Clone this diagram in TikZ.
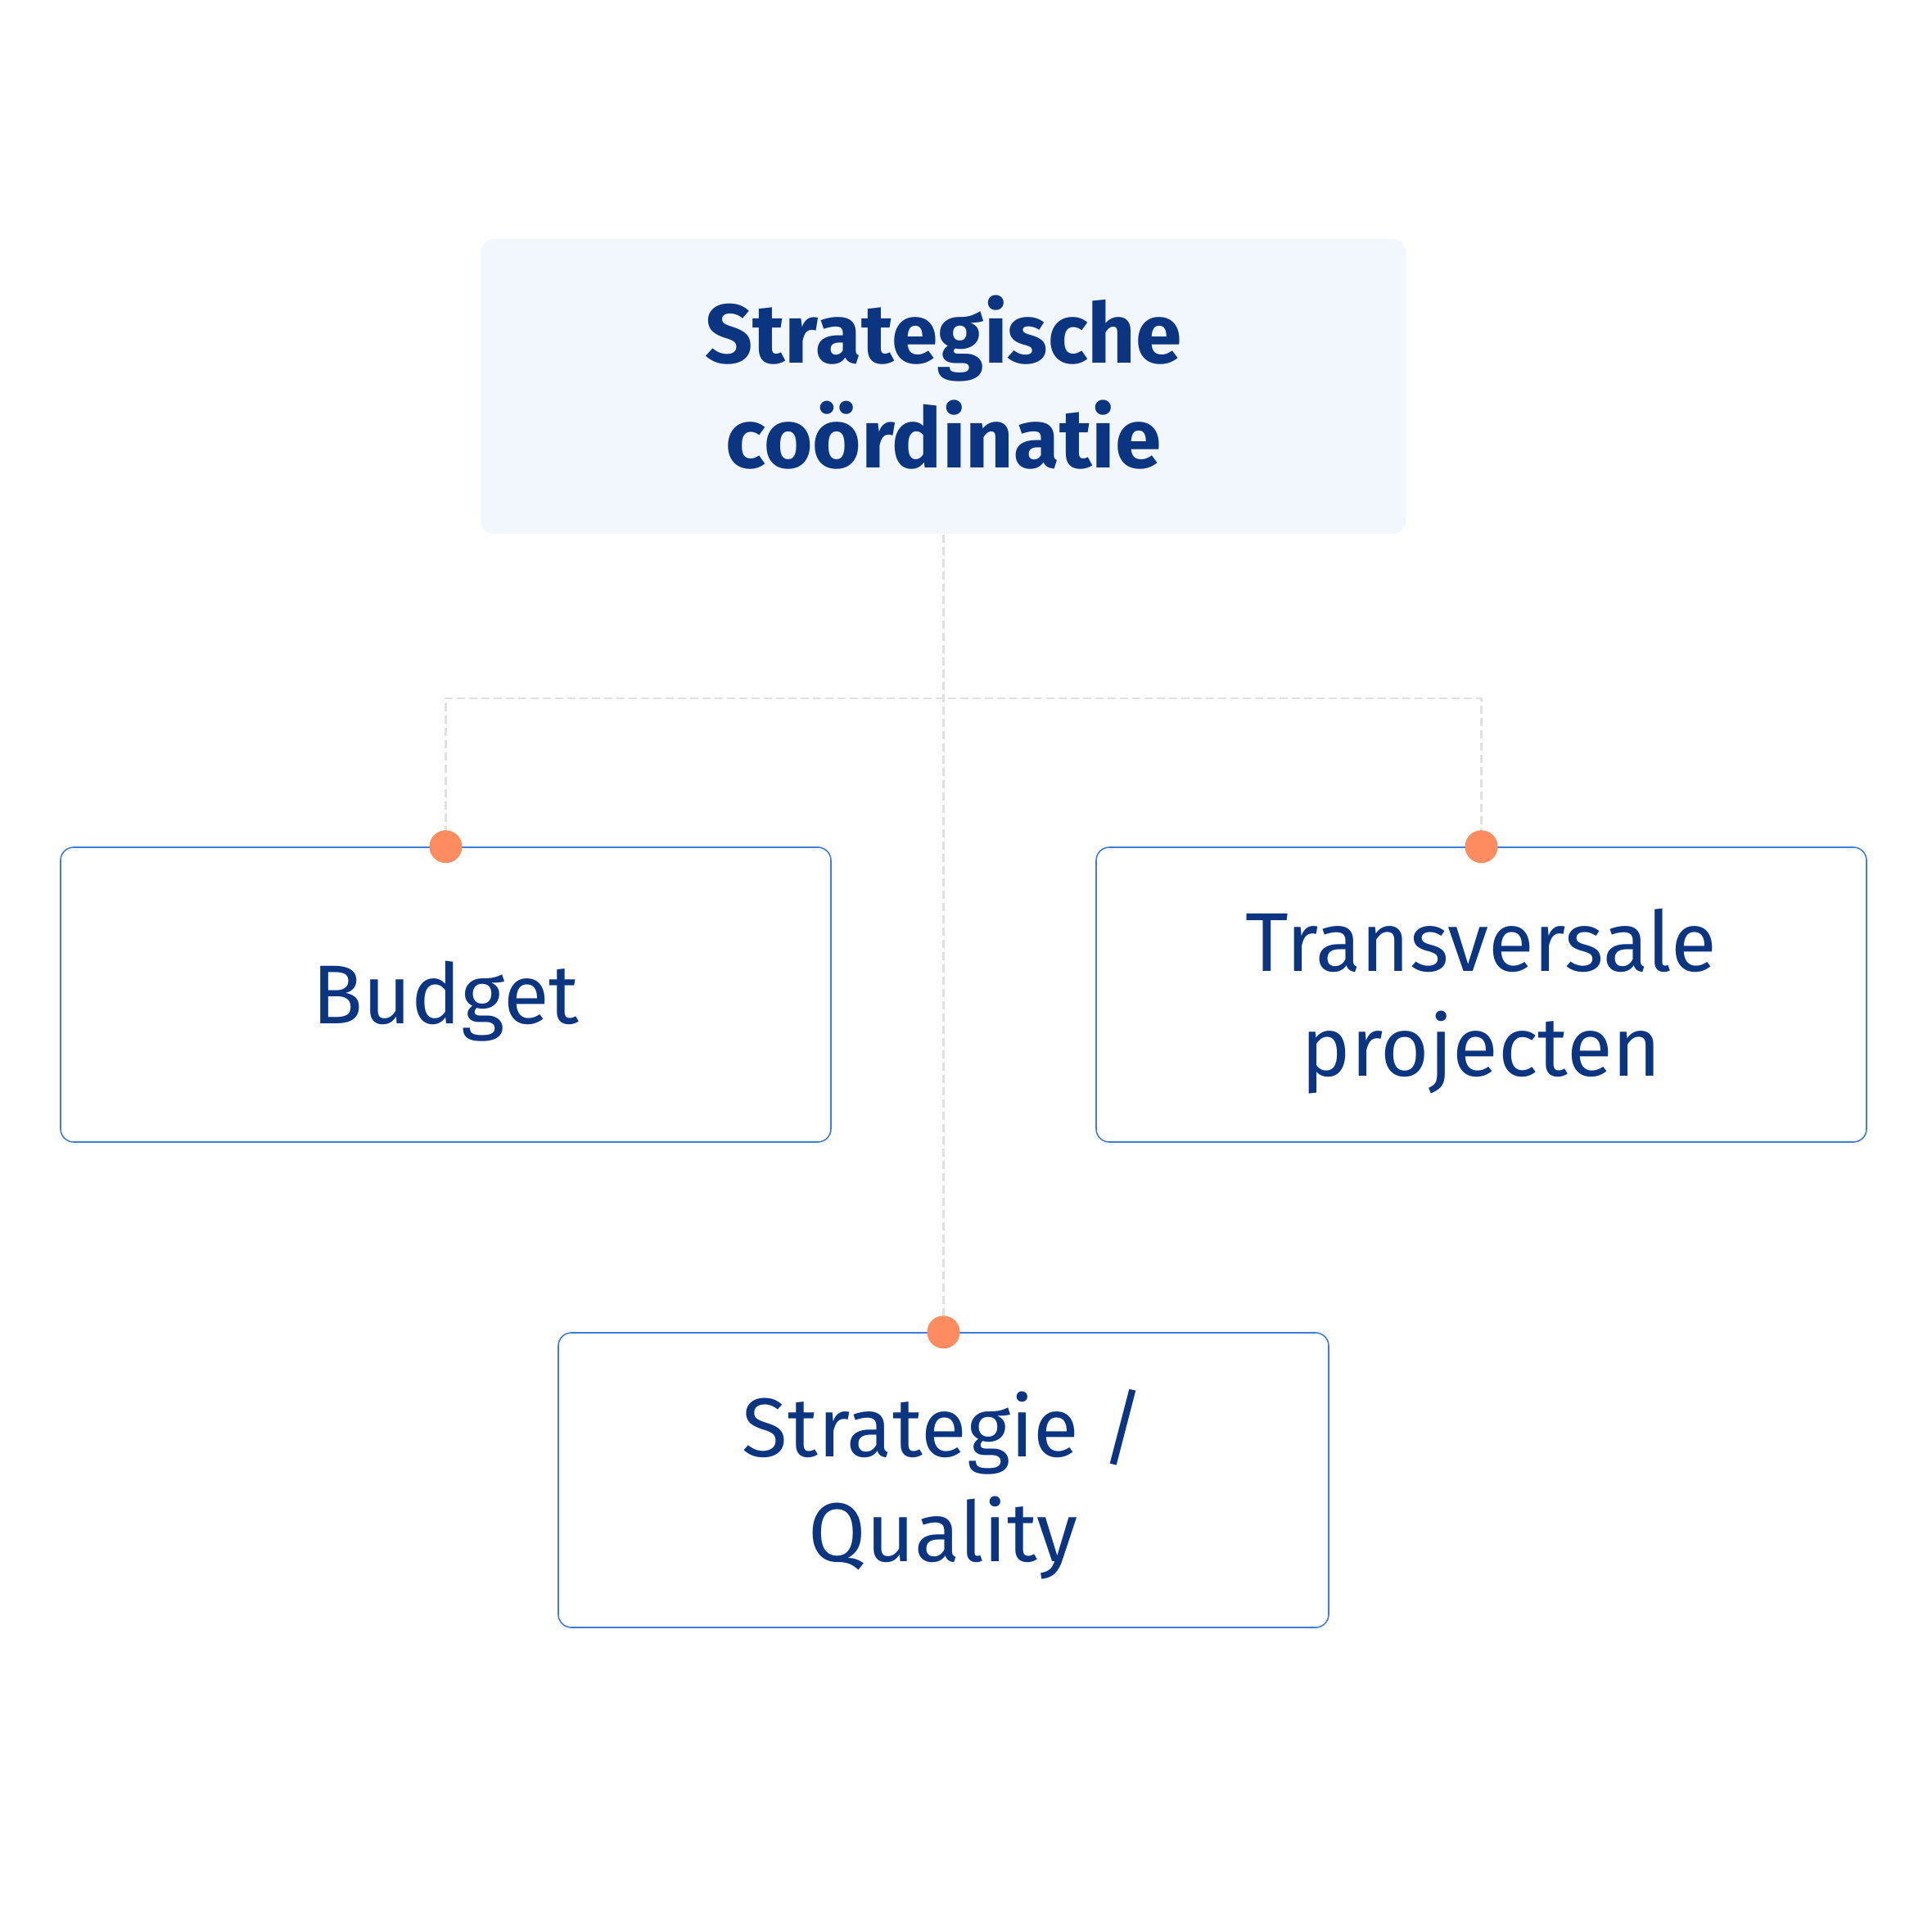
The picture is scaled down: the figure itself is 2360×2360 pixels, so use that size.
\documentclass[tikz,border=0pt]{standalone}
\usepackage{fontspec}
\setmainfont{Fira Sans}
\definecolor{navy}{HTML}{0B3481}
\definecolor{topfill}{HTML}{F2F7FE}
\definecolor{boxblue}{HTML}{3F7BD9}
\definecolor{linegray}{HTML}{E0E0E0}
\definecolor{dotorange}{HTML}{FF8C61}
\tikzset{
  boxtext/.style={text=navy, align=center, font=\fontsize{29}{36.4}\selectfont},
  oneline/.style={text height=20pt, text depth=0pt},
  twoline/.style={text height=56.4pt, text depth=0pt},
  topbox/.style={boxtext, fill=topfill, rounded corners=1.6mm, minimum width=113mm, minimum height=36mm, inner sep=0pt, font=\bfseries\fontsize{29}{36.4}\selectfont},
  leafbox/.style={boxtext, draw=boxblue, line width=0.45pt, fill=white, rounded corners=1.6mm, minimum width=94.1mm, minimum height=36mm, inner sep=0pt},
  conn/.style={draw=linegray, line width=0.6pt, dash pattern=on 1mm off 0.5mm},
  port/.style={circle, fill=dotorange, minimum size=4mm, inner sep=0pt},
}
\begin{document}
\begin{tikzpicture}[x=0.1mm,y=-0.1mm]
\useasboundingbox[fill=white] (0,0) rectangle (2360,2360);
\node[topbox, twoline] (top) at (1152.5,472) {Strategische\\coördinatie};
\node[leafbox, oneline] (budget) at (544.5,1215) {Budget};
\node[leafbox, twoline] (trans) at (1809.5,1215) {Transversale\\projecten};
\node[leafbox, twoline] (strat) at (1152.5,1808) {Strategie /\\Quality};
\coordinate (hub) at (1152.5,853);
\draw[conn] (top.south) -- (strat.north);
\draw[conn] (budget.north) |- (hub) -| (trans.north);
\node[port] (pb) at (budget.north) {};
\node[port] (pt) at (trans.north) {};
\node[port] (ps) at (strat.north) {};
\end{tikzpicture}
\end{document}
